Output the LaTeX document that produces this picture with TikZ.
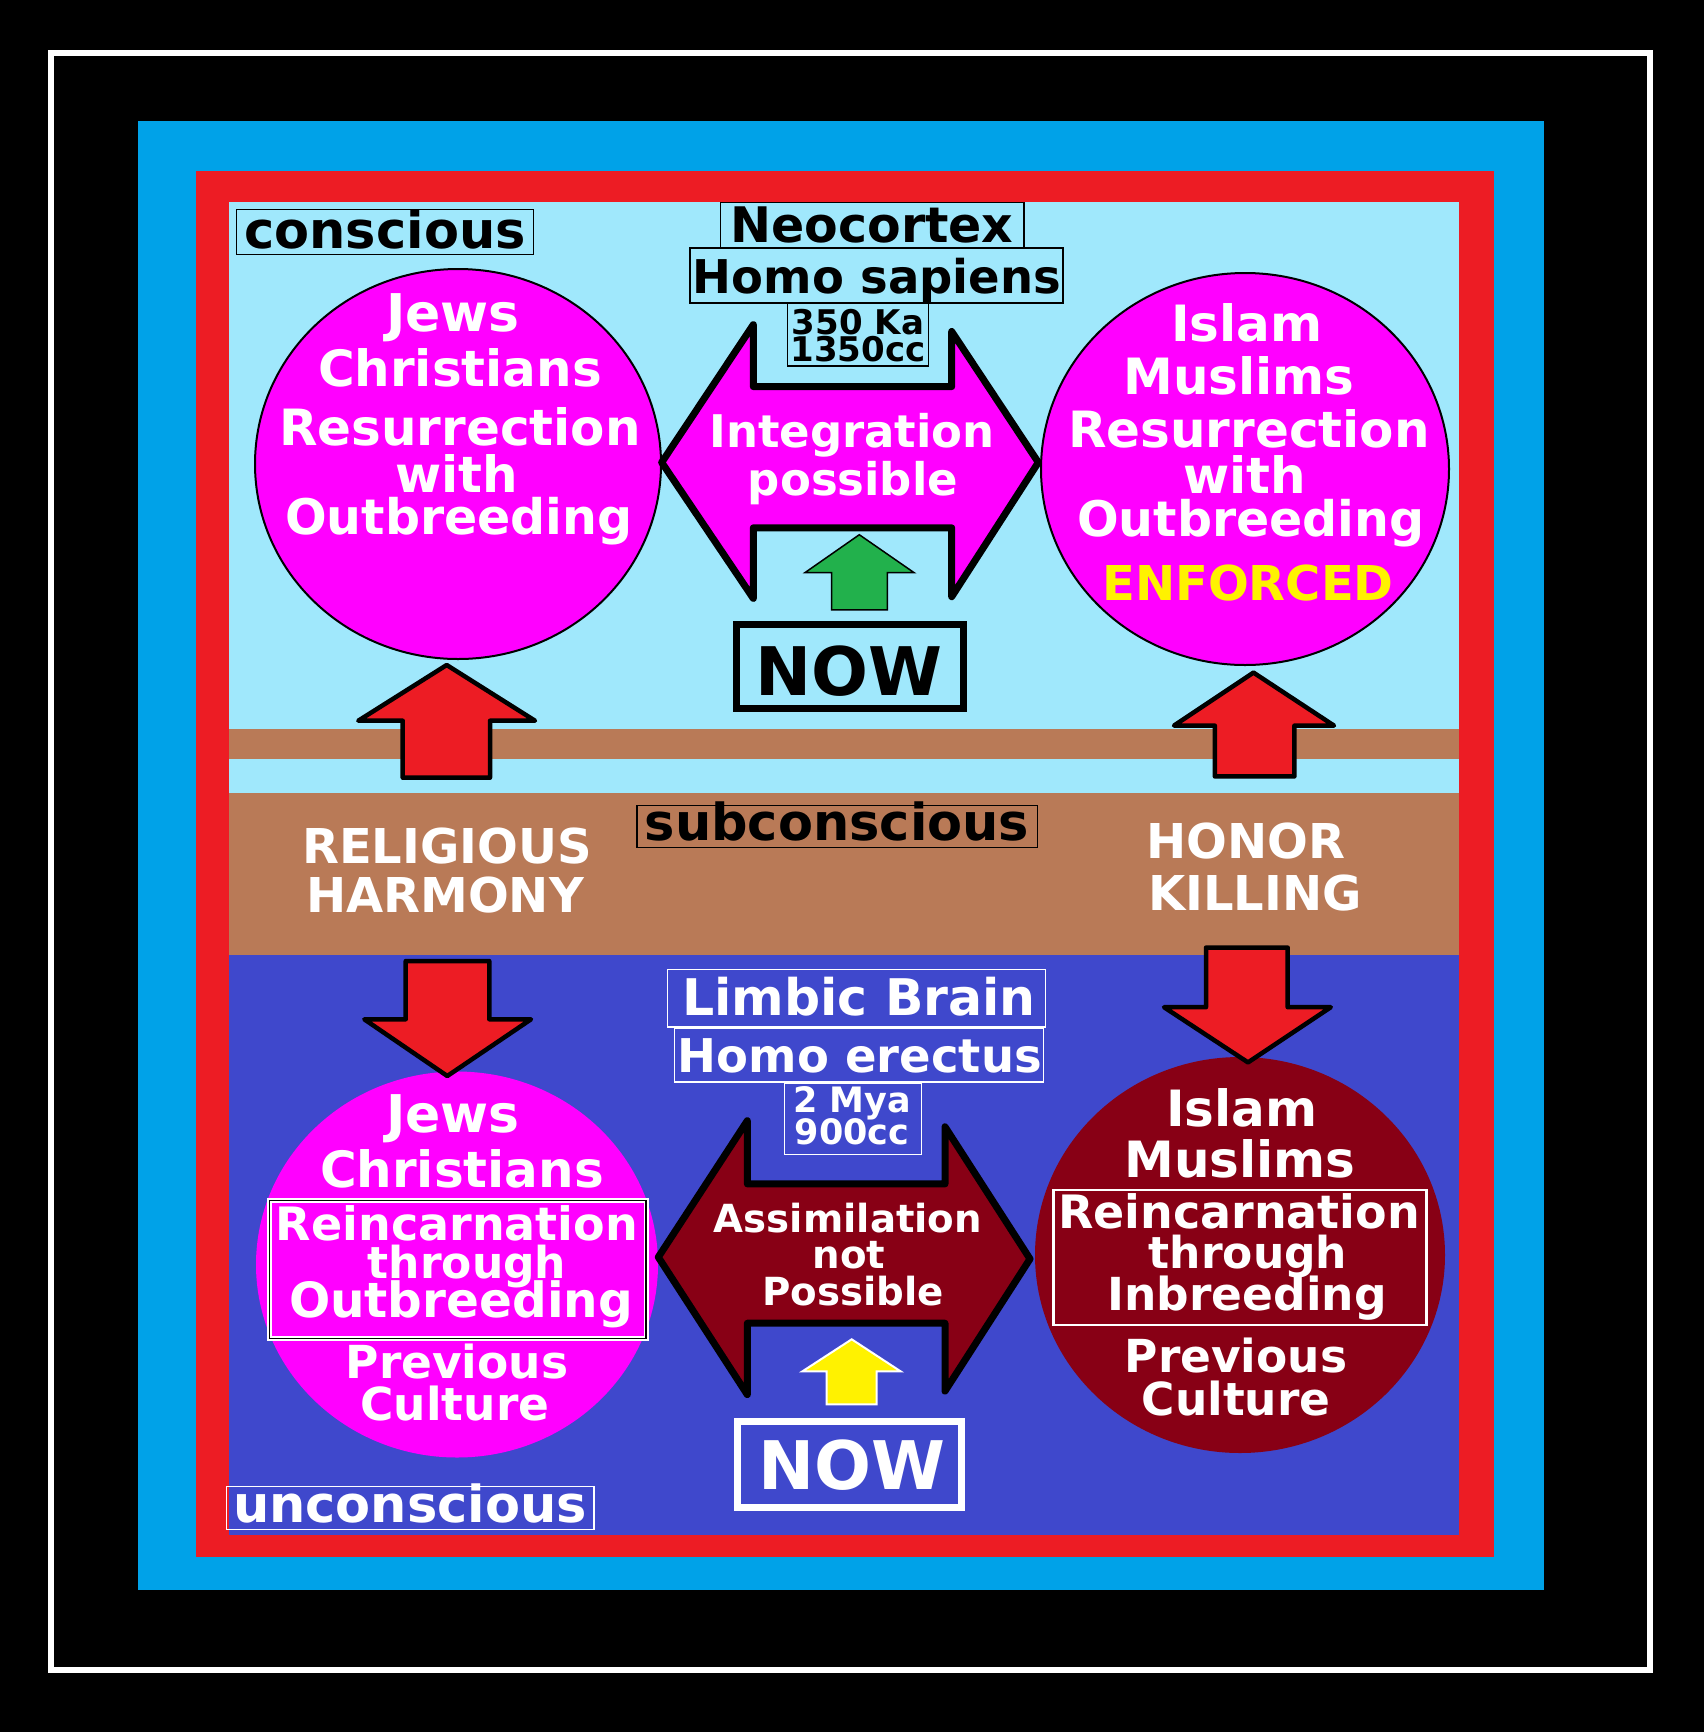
\documentclass[tikz,border=0pt]{standalone}
\usepackage{fontspec}
\setmainfont{DejaVu Sans}
\usetikzlibrary{shapes.geometric}
\definecolor{framecyan}{HTML}{00A2E8}
\definecolor{framered}{HTML}{ED1C24}
\definecolor{paleblue}{HTML}{A0E8FC}
\definecolor{clay}{HTML}{B97A57}
\definecolor{deepblue}{HTML}{3F48CC}
\definecolor{fuchsia}{RGB}{255,0,255}
\definecolor{wine}{HTML}{880015}
\definecolor{grass}{HTML}{22B14C}
\definecolor{lemon}{HTML}{FFF200}
\newcommand\txtsize[1]{\fontsize{#1}{#1}\selectfont\bfseries}
\tikzset{
    word/.style={anchor=base,inner sep=0pt,text=white,font=\txtsize{#1}},
    word/.default=50,
    tagbox/.style={line width=1.5pt},
    bigarrow/.style={draw=black,line width=7pt,line join=round},
    redarrow/.style={fill=framered,draw=black,line width=4.5pt,line join=round},
    blob/.style={ellipse,inner sep=0pt},
}
\begin{document}
\begin{tikzpicture}[x=1pt,y=-1pt]
    \fill[black](0,0)rectangle(1704,1732);
    \draw[white,line width=6pt](51,52.5)rectangle(1649.5,1669.5);
    \fill[framecyan](138,121)rectangle(1544,1590);
    \fill[framered](195.5,171)rectangle(1494,1557);
    \fill[paleblue](228.6,202)rectangle(1459,793);
    \fill[clay](228.6,729)rectangle(1459,759);
    \fill[clay](228.6,793)rectangle(1459,955);
    \fill[deepblue](228.6,955)rectangle(1459,1535);

    \node[blob,fill=fuchsia,draw=black,line width=2pt,minimum width=406pt,minimum height=390pt](jcup)at(458,464){};
    \node[blob,fill=fuchsia,draw=black,line width=2pt,minimum width=408pt,minimum height=392pt](imup)at(1245,469){};
    \node[blob,fill=fuchsia,minimum width=402pt,minimum height=386pt](jcdown)at(457,1264.5){};
    \node[blob,fill=wine,minimum width=410pt,minimum height=396pt](imdown)at(1240,1255){};

    \draw[bigarrow,fill=fuchsia](661.7,462.4)--(753.3,324.6)--(753.3,386.6)--(951.7,386.6)--(951.7,331.5)--(1038.3,462.4)
        --(951.7,596.7)--(951.7,527.8)--(753.3,527.8)--(753.3,598.4)--cycle;
    \draw[bigarrow,fill=wine](658.3,1257.1)--(747.3,1120.7)--(747.3,1183.9)--(945,1183.9)--(945,1126.8)--(1030,1258.9)
        --(945,1391.1)--(945,1323.2)--(747.3,1323.2)--(747.3,1394.6)--cycle;
    \draw[fill=grass,draw=black,line width=1.5pt](859.3,534.7)--(914,572.6)--(887.3,572.6)--(887.3,609.8)--(831.7,609.8)--(831.7,572.6)--(805,572.6)--cycle;
    \draw[fill=lemon,draw=white,line width=2pt](851.7,1339.3)--(900.7,1371.4)--(876.7,1371.4)--(876.7,1404.3)--(826.7,1404.3)--(826.7,1371.4)--(802.3,1371.4)--cycle;

    \draw[redarrow](446.7,665)--(535,720.7)--(490,720.7)--(490,777.7)--(402.7,777.7)--(402.7,720.7)--(358.3,720.7)--cycle;
    \draw[redarrow](1253.5,672.6)--(1334,725.6)--(1294.4,725.6)--(1294.4,776.4)--(1214.8,776.4)--(1214.8,725.6)--(1174,725.6)--cycle;
    \draw[redarrow](405.7,961)--(489.3,961)--(489.3,1019.3)--(531,1019.3)--(447.3,1076)--(364.3,1019.3)--(405.7,1019.3)--cycle;
    \draw[redarrow](1206,947.6)--(1287.7,947.6)--(1287.7,1007.2)--(1330.8,1007.2)--(1248,1062.4)--(1164,1007.2)--(1206,1007.2)--cycle;

    \draw[tagbox](236.7,209.3)rectangle(533.3,254.3);
    \draw[tagbox](720.7,202.4)rectangle(1024,247.8);
    \draw[tagbox](690,248.2)rectangle(1063,303);
    \draw[tagbox](787.7,303.3)rectangle(928.3,366);
    \draw[tagbox](637,805.3)rectangle(1037.5,847.3);
    \draw[tagbox,white](226.7,1486.7)rectangle(594,1529.3);
    \draw[tagbox,white](667.3,969.6)rectangle(1045.3,1026.8);
    \draw[tagbox,white](674.3,1027.9)rectangle(1043.7,1082.1);
    \draw[tagbox,white](784.3,1083.2)rectangle(921.7,1154.3);
    \draw[line width=7pt](736.3,624.6)rectangle(963,708.7);
    \draw[white,line width=7pt](737,1421.8)rectangle(961,1507);
    \draw[white,line width=5pt](269.3,1200.7)rectangle(646,1338.3);
    \draw[black,line width=1.2pt](269.3,1200.7)rectangle(646,1338.3);
    \draw[white,line width=2.5pt](1053.3,1190)rectangle(1426.7,1325);

    \foreach \x/\y/\s/\t in {453/331/52/Jews,460/386/50/Christians,460/445/50/Resurrection,457/492/50/with,459/534/49/Outbreeding}
        \node[word=\s](jcup\y)at(\x,\y){\t};
    \foreach \x/\y/\s/\t in {1247/341/50/Islam,1239/394/50/Muslims,1249/447/50/Resurrection,1245/493/50/with,1251/536/49/Outbreeding}
        \node[word=\s](imup\y)at(\x,\y){\t};
    \node[word=48,text=lemon](enforced)at(1248,600){ENFORCED};
    \foreach \x/\y/\s/\t in {453/1132/52/Jews,462/1187/50/Christians,457/1240/46/Reincarnation,467/1278/44/through,461/1317/48.5/Outbreeding,457/1378/45.5/Previous,455/1420/45.5/Culture}
        \node[word=\s](jcdown\y)at(\x,\y){\t};
    \foreach \x/\y/\s/\t in {1242/1126/50/Islam,1240/1177/50/Muslims,1239/1228/46/Reincarnation,1248/1268/44/through,1247/1310/45.5/Inbreeding,1236/1372/45.5/Previous,1236/1415/45.5/Culture}
        \node[word=\s](imdown\y)at(\x,\y){\t};

    \node[word=51,text=black](conscious)at(385,248){conscious};
    \node[word=51,text=black](subconscious)at(837,840){subconscious};
    \node[word=51](unconscious)at(410,1522){unconscious};
    \node[word=49,text=black](neocortex)at(872,242){Neocortex};
    \node[word=46.5,text=black](sapiens)at(877,293){Homo sapiens};
    \node[word=34,text=black](ka)at(858,334){350 Ka};
    \node[word=34,text=black](cc)at(858,361.5){1350cc};
    \node[word=45](integration)at(852,447){Integration};
    \node[word=45](possible)at(853,495){possible};
    \node[word=67,text=black](nowup)at(849,695){NOW};
    \node[word=48](religious)at(447,863){RELIGIOUS};
    \node[word=48](harmony)at(445,912){HARMONY};
    \node[word=48](honor)at(1246,858){HONOR};
    \node[word=48](killing)at(1255,910){KILLING};
    \node[word=50.5](limbic)at(859,1015){Limbic Brain};
    \node[word=46.5](erectus)at(860,1072.5){Homo erectus};
    \node[word=35](mya)at(852,1112.5){2 Mya};
    \node[word=35](ccdown)at(852,1144.6){900cc};
    \node[word=38.7](assim)at(848,1232){Assimilation};
    \node[word=38.7](notword)at(849,1268){not};
    \node[word=38.7](possdown)at(853,1305){Possible};
    \node[word=67](nowdown)at(852,1489){NOW};
\end{tikzpicture}
\end{document}
